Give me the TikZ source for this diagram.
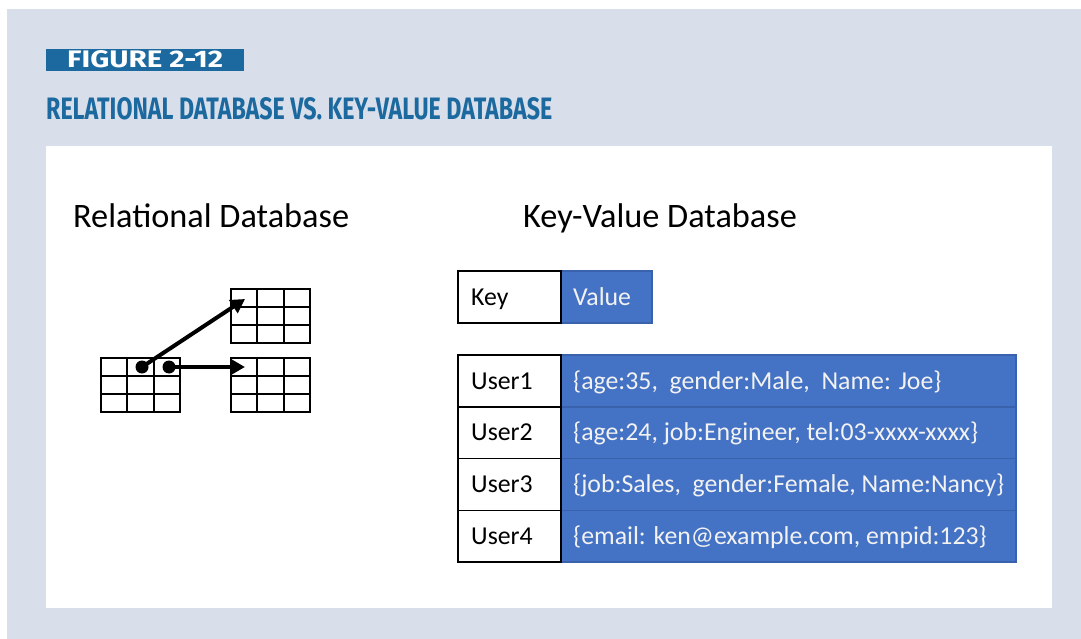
\documentclass[tikz,border=0pt]{standalone}
\usepackage{fontspec}
\usepackage{graphicx}
\setmainfont{Carlito}
\newfontfamily\headfont{Fira Sans}
\usetikzlibrary{arrows.meta}

\begin{document}
\begin{tikzpicture}[x=1pt, y=-1pt]
    % Define colors
    \definecolor{pagecolor}{RGB}{216, 222, 234}
    \definecolor{titlecolor}{RGB}{27, 105, 158}
    \definecolor{valuecolor}{RGB}{68, 114, 196}
    \definecolor{valueedge}{RGB}{58, 98, 172}
    \definecolor{valuetext}{RGB}{242, 242, 242}

    % Define sizes of the key-value table
    \def\keyw{103}
    \def\rowh{51.75}

    % Define styles
    \tikzset{
        keybox/.style={draw=black, line width=1.5pt, fill=white, anchor=north west,
            outer sep=0pt, inner sep=0pt, minimum height=\rowh pt},
        valuebox/.style={keybox, draw=valueedge, fill=valuecolor},
        keytext/.style={anchor=west, inner sep=0pt, text height=16.6pt, text depth=0pt,
            font=\fontsize{25.8}{30}\selectfont},
        valuetext/.style={keytext, text=valuetext},
        heading/.style={anchor=base west, inner sep=0pt, font=\fontsize{34.3}{40}\selectfont},
        gridline/.style={line width=2.2pt, line cap=rect},
        link/.style={line width=4pt, -{Triangle[length=14pt, width=15pt]}},
        linkdot/.style={circle, fill=black, inner sep=0pt, minimum size=13pt},
    }

    % Page, frame and white panel
    \useasboundingbox (0,0) rectangle (1081,639);
    \fill[white] (0,0) rectangle (1081,639);
    \fill[pagecolor] (7,9) rectangle (1081,639);
    \fill[white] (46,146) rectangle (1052,608);

    % Figure badge and title
    \node[fill=titlecolor, anchor=north west, inner sep=0pt, minimum width=198pt, minimum height=22pt] (badge) at (46,49) {};
    \node[anchor=south west, inner sep=0pt, text=white] (badgetext) at (67,68)
        {\resizebox{156pt}{17pt}{\headfont\bfseries FIGURE 2-12}};
    \node[anchor=south west, inner sep=0pt, text=titlecolor] (title) at (46,120)
        {\resizebox{506pt}{22pt}{\headfont\bfseries RELATIONAL DATABASE VS. KEY-VALUE DATABASE}};

    % Headings
    \node[heading] (relhead) at (73,227) {Relational Database};
    \node[heading] (kvhead) at (523,227) {Key-Value Database};

    % Relational tables: corners of the three grids
    \coordinate (relleft) at (101,358);
    \coordinate (relupper) at (231,289);
    \coordinate (rellower) at (231,358);

    % Draw the 3x3 grids
    \foreach \g in {relleft, relupper, rellower} {
        \foreach \c in {0,1,2,3}
            \draw[gridline] ([xshift=\c*26.33pt]\g) -- ++(0,54);
        \foreach \r in {0,1,2,3}
            \draw[gridline] ([yshift=-\r*18pt]\g) -- ++(79,0);
    }

    % Links between the tables
    \node[linkdot] (dotupper) at (142,367) {};
    \node[linkdot] (dotlower) at (169,367) {};
    \coordinate (tipupper) at (245,299);
    \coordinate (tiplower) at (245,367);
    \draw[link] (dotupper.center) -- (tipupper);
    \draw[link] (dotlower.center) -- (tiplower);

    % Key-value header
    \node[valuebox, minimum width=91pt] (valuehead) at (561,271) {};
    \node[keybox, minimum width=\keyw pt, minimum height=52pt] (keyhead) at (458,271) {};
    \node[keytext] (keyheadtext) at ([xshift=13pt]keyhead.west) {Key};
    \node[valuetext] (valueheadtext) at ([xshift=12pt]valuehead.west) {Value};

    % Key-value rows
    \foreach \i/\entry in {
        1/{\{age:35,\ \ gender:Male,\ \ Name: Joe\}},
        2/{\{age:24, job:Engineer, tel:03-xxxx-xxxx\}},
        3/{\{job:Sales,\ \ gender:Female, Name:Nancy\}},
        4/{\{email: ken@example.com, empid:123\}}} {
        \node[valuebox, minimum width=455pt] (entry\i) at (561, {355 + (\i-1)*\rowh}) {};
        \node[keybox, minimum width=\keyw pt] (user\i) at (458, {355 + (\i-1)*\rowh}) {};
        \node[keytext] (usertext\i) at ([xshift=13pt]user\i.west) {User\i};
        \node[valuetext] (entrytext\i) at ([xshift=12pt]entry\i.west) {\entry};
    }

\end{tikzpicture}
\end{document}
